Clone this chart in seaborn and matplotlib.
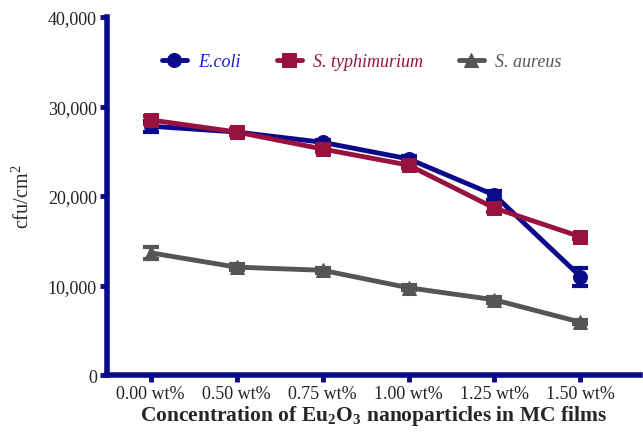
import numpy as np
import pandas as pd
import matplotlib.pyplot as plt
import seaborn as sns

concentrations = ['0.00 wt%', '0.50 wt%', '0.75 wt%', '1.00 wt%', '1.25 wt%', '1.50 wt%']
ecoli = [27800, 27150, 26000, 24150, 20100, 11000]
ecoli_err = [600, 300, 250, 300, 500, 1000]
styph = [28500, 27150, 25250, 23450, 18650, 15450]
styph_err = [400, 300, 300, 300, 400, 300]
saureus = [13650, 12050, 11700, 9750, 8400, 5900]
saureus_err = [700, 300, 300, 300, 300, 250]

series = ['E.coli', 'S. typhimurium', 'S. aureus']
colors = ['#0a0a8a', '#99113f', '#555555']
markers = ['o', 's', '^']

pos = np.arange(len(concentrations))
df = pd.DataFrame({
    'pos': np.tile(pos, 3),
    'cfu': ecoli + styph + saureus,
    'err': ecoli_err + styph_err + saureus_err,
    'strain': np.repeat(series, len(pos)),
})

sns.set_style('white')
plt.rcParams['font.family'] = ['Liberation Serif', 'DejaVu Serif']
plt.rcParams['mathtext.fontset'] = 'custom'
plt.rcParams['mathtext.rm'] = 'Liberation Serif'
plt.rcParams['mathtext.bf'] = 'Liberation Serif:bold'

fig = plt.figure(figsize=(6.43, 4.39), dpi=100)
ax = fig.add_axes([0.166, 0.1435, 0.829, 0.8155])

for name, c, m in zip(series, colors, markers):
    d = df[df['strain'] == name]
    ax.errorbar(d['pos'], d['cfu'], yerr=d['err'], fmt='none', ecolor=c,
                elinewidth=3, capsize=6, capthick=3, zorder=2)
    sns.lineplot(data=d, x='pos', y='cfu', color=c, marker=m, markersize=10,
                 markeredgecolor=c, linewidth=3.5, ax=ax, label=name, zorder=3)

ax.set_xlim(-0.51, 5.69)
ax.set_ylim(0, 40000)
ax.set_xticks(pos)
ax.set_xticklabels(concentrations)
ax.set_yticks([0, 10000, 20000, 30000, 40000])
ax.set_yticklabels(['0', '10,000', '20,000', '30,000', '40,000'])
ax.tick_params(axis='both', labelsize=13, colors='#0a0a8a', width=3.5, length=5,
               direction='out', left=True, bottom=True, pad=2)
for lbl in ax.get_xticklabels() + ax.get_yticklabels():
    lbl.set_color('#222222')

sns.despine(ax=ax)
for s in ['left', 'bottom']:
    ax.spines[s].set_color('#0a0a8a')
    ax.spines[s].set_linewidth(4)

ax.set_ylabel('cfu/cm$^2$', fontsize=14.5, labelpad=10)
ax.set_xlabel(r'Concentration of Eu$_\mathbf{2}$O$_\mathbf{3}$ nanoparticles in MC films',
              fontsize=15.5, fontweight='bold', labelpad=1)

leg = ax.legend(loc='upper center', bbox_to_anchor=(0.478, 0.945), ncol=3, frameon=False,
                prop={'style': 'italic', 'size': 13}, handlelength=1.4,
                handletextpad=0.6, columnspacing=2.0)
for t, c in zip(leg.get_texts(), ['#1a1ad0', '#99113f', '#555555']):
    t.set_color(c)

fig.savefig('out.png', dpi=100)
